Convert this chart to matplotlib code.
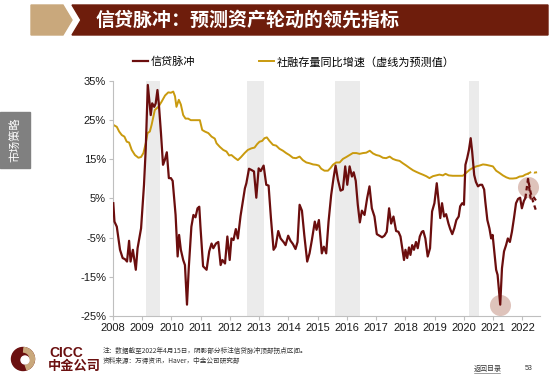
import matplotlib
matplotlib.use("Agg")
import matplotlib.pyplot as plt
from matplotlib.patches import Polygon, Rectangle, Circle, Wedge

plt.rcParams['font.family'] = ['Liberation Sans', 'Noto Sans CJK SC', 'DejaVu Sans']

# credit impulse (%), decimal years
ci_t = [2008.01, 2008.05, 2008.13, 2008.24, 2008.33, 2008.41, 2008.48, 2008.55, 2008.6, 2008.68,
        2008.78, 2008.84, 2008.96, 2009.06, 2009.12, 2009.19, 2009.29, 2009.34, 2009.41, 2009.46,
        2009.52, 2009.57, 2009.64, 2009.71, 2009.77, 2009.84, 2009.91, 2009.98, 2010.04, 2010.14,
        2010.21, 2010.26, 2010.32, 2010.4, 2010.46, 2010.53, 2010.59, 2010.68, 2010.75, 2010.82,
        2010.89, 2010.95, 2010.99, 2011.08, 2011.2, 2011.29, 2011.37, 2011.43, 2011.52, 2011.6,
        2011.68, 2011.74, 2011.83, 2011.91, 2011.99, 2012.05, 2012.12, 2012.2, 2012.27, 2012.36,
        2012.44, 2012.51, 2012.56, 2012.65, 2012.73, 2012.82, 2012.9, 2012.98, 2013.05, 2013.15,
        2013.24, 2013.32, 2013.4, 2013.49, 2013.56, 2013.65, 2013.73, 2013.84, 2013.9, 2013.99,
        2014.07, 2014.15, 2014.24, 2014.31, 2014.38, 2014.46, 2014.54, 2014.64, 2014.72, 2014.8,
        2014.9, 2014.96, 2015.04, 2015.14, 2015.21, 2015.29, 2015.37, 2015.46, 2015.54, 2015.61,
        2015.69, 2015.78, 2015.86, 2015.94, 2016.01, 2016.09, 2016.17, 2016.23, 2016.3, 2016.37,
        2016.44, 2016.51, 2016.6, 2016.69, 2016.77, 2016.85, 2016.94, 2017.02, 2017.11, 2017.2,
        2017.28, 2017.36, 2017.44, 2017.51, 2017.59, 2017.68, 2017.76, 2017.83, 2017.89, 2017.95,
        2018.0, 2018.06, 2018.12, 2018.17, 2018.23, 2018.29, 2018.36, 2018.42, 2018.49, 2018.56,
        2018.61, 2018.68, 2018.76, 2018.84, 2018.91, 2018.99, 2019.07, 2019.12, 2019.19, 2019.25,
        2019.32, 2019.39, 2019.47, 2019.53, 2019.6, 2019.67, 2019.74, 2019.82, 2019.87, 2019.94,
        2020.0, 2020.05, 2020.11, 2020.17, 2020.23, 2020.28, 2020.35, 2020.41, 2020.48, 2020.55,
        2020.62, 2020.69, 2020.73, 2020.8, 2020.87, 2020.93, 2020.98, 2021.05, 2021.1, 2021.15,
        2021.19, 2021.24, 2021.3, 2021.37, 2021.44, 2021.5, 2021.57, 2021.64, 2021.71, 2021.78,
        2021.85, 2021.92, 2021.98, 2022.05, 2022.1]
ci_v = [3.8, -0.9, -2.2, -8.1, -10.2, -10.5, -11.1, -5.8, -11.1, -8.1,
        -13.2, -7.7, -2.6, 8.5, 17.8, 34.0, 26.3, 29.3, 28.4, 29.3,
        32.7, 28.9, 21.7, 13.6, 14.8, 16.8, 10.2, 10.2, 9.5, 0.8,
        -9.8, -4.3, -8.1, -10.7, -12.0, -22.1, -12.8, -2.2, 0.8, 0.2,
        2.5, 2.9, -2.2, -12.3, -13.2, -8.5, -6.5, -7.7, -6.5, -6.1,
        -12.0, -10.7, -11.6, -4.7, -10.7, -5.2, -5.6, -2.8, -5.2, 0.5,
        4.2, 7.6, 8.9, 12.6, 12.3, 11.9, 5.2, 12.7, 12.0, 13.4,
        8.5, 8.3, 0.0, -8.1, -7.3, -3.3, -5.2, -6.2, -6.9, -4.5,
        -5.8, -6.6, -7.9, -6.1, 3.4, 1.9, -4.3, -11.1, -9.0, -5.6,
        -0.9, -3.0, -0.5, -9.0, -7.3, -9.0, -0.9, 5.9, 10.2, 13.4,
        9.8, 7.0, 7.3, 13.2, 8.5, 13.2, 10.6, 11.7, 9.5, 3.4,
        -1.1, 1.9, 0.8, 5.1, 8.1, 2.5, 0.4, -4.1, -4.5, -4.9,
        -4.5, -3.5, 2.5, -1.4, 0.4, -3.3, -3.5, -4.7, -7.7, -10.7,
        -8.1, -10.2, -7.5, -9.4, -6.9, -8.1, -6.1, -7.7, -4.7, -3.5,
        -3.3, -5.2, -9.8, -7.7, 1.7, 3.8, 8.9, 5.1, 0.0, 3.8,
        0.4, 1.0, -1.4, -2.8, -4.1, -2.6, -0.5, 0.4, 3.0, 3.8,
        3.4, 13.6, 15.3, 17.4, 20.4, 17.0, 11.0, 9.2, 8.1, 8.5,
        8.5, 7.3, 4.2, -0.5, -2.6, -5.2, -4.3, -9.4, -13.2, -14.5,
        -17.9, -22.1, -12.8, -8.5, -6.9, -5.2, -6.1, -3.5, 0.0, 3.8,
        4.9, 5.2, 2.5, 4.4, 5.1]

# credit impulse forecast paths (dashed)
fc1_t = [2022.1, 2022.19, 2022.28, 2022.37, 2022.46]
fc1_v = [5.1, 10.0, 6.5, 4.0, 2.0]
fc2_t = [2022.19, 2022.28, 2022.37, 2022.46]
fc2_v = [10.0, 5.0, 5.5, 4.5]

# total social financing stock yoy (%)
tsf_t = [2008.01, 2008.13, 2008.21, 2008.3, 2008.39, 2008.47, 2008.55, 2008.64, 2008.75, 2008.87,
         2008.96, 2009.04, 2009.12, 2009.18, 2009.26, 2009.32, 2009.38, 2009.43, 2009.55, 2009.66,
         2009.78, 2009.89, 2009.98, 2010.06, 2010.12, 2010.17, 2010.25, 2010.32, 2010.4, 2010.48,
         2010.57, 2010.66, 2010.74, 2010.85, 2010.97, 2011.05, 2011.14, 2011.26, 2011.37, 2011.48,
         2011.54, 2011.65, 2011.77, 2011.88, 2011.97, 2012.05, 2012.16, 2012.27, 2012.38, 2012.5,
         2012.61, 2012.73, 2012.84, 2012.93, 2013.01, 2013.1, 2013.18, 2013.26, 2013.35, 2013.47,
         2013.58, 2013.69, 2013.81, 2013.92, 2014.03, 2014.15, 2014.26, 2014.38, 2014.49, 2014.61,
         2014.72, 2014.84, 2014.95, 2015.04, 2015.12, 2015.23, 2015.35, 2015.44, 2015.52, 2015.63,
         2015.75, 2015.86, 2015.98, 2016.09, 2016.2, 2016.32, 2016.43, 2016.55, 2016.66, 2016.78,
         2016.89, 2017.0, 2017.11, 2017.23, 2017.34, 2017.46, 2017.57, 2017.68, 2017.8, 2017.91,
         2018.03, 2018.14, 2018.26, 2018.37, 2018.49, 2018.59, 2018.71, 2018.82, 2018.94, 2019.05,
         2019.16, 2019.28, 2019.37, 2019.48, 2019.62, 2019.79, 2019.96, 2020.07, 2020.19, 2020.3,
         2020.42, 2020.53, 2020.65, 2020.76, 2020.87, 2020.99, 2021.1, 2021.22, 2021.33, 2021.45,
         2021.56, 2021.67, 2021.79, 2021.9, 2022.01, 2022.1, 2022.18]
tsf_v = [23.8, 23.3, 22.1, 21.2, 20.8, 19.5, 19.3, 17.4, 16.1, 15.4,
         15.6, 16.6, 19.1, 21.7, 22.1, 23.8, 25.9, 27.6, 28.4, 29.7,
         31.3, 32.1, 32.0, 32.3, 31.1, 28.4, 30.2, 29.0, 26.3, 25.4,
         25.4, 25.0, 25.0, 25.0, 25.0, 22.5, 22.1, 21.7, 20.8, 20.3,
         19.1, 18.2, 17.4, 17.0, 16.0, 16.1, 15.4, 14.8, 15.6, 16.6,
         17.4, 17.8, 18.0, 18.9, 19.5, 19.7, 20.4, 20.6, 19.7, 18.7,
         18.5, 17.7, 17.2, 16.6, 16.1, 15.4, 15.3, 15.7, 14.8, 14.2,
         14.0, 13.7, 13.6, 13.4, 12.6, 12.1, 12.1, 12.8, 13.6, 14.2,
         14.2, 15.1, 15.6, 16.1, 16.6, 16.6, 16.4, 16.6, 16.7, 17.2,
         16.5, 16.1, 15.9, 15.4, 15.3, 15.7, 15.1, 14.8, 14.6, 14.0,
         13.4, 12.8, 12.2, 11.8, 11.4, 11.1, 10.7, 10.2, 10.7, 10.9,
         11.1, 10.9, 11.3, 10.9, 10.8, 10.8, 10.8, 11.5, 12.3, 12.8,
         13.2, 13.4, 13.7, 13.6, 13.4, 13.2, 12.1, 11.5, 10.9, 10.4,
         10.1, 10.1, 10.2, 10.6, 10.7, 11.1, 11.3]
tsf_fc_t = [2022.18, 2022.3, 2022.4, 2022.5]
tsf_fc_v = [11.3, 11.8, 11.6, 11.7]

# shaded credit impulse peak periods
shade_start = [2009.13, 2012.58, 2015.58, 2020.17]
shade_end = [2009.6, 2013.15, 2016.45, 2020.51]

# highlighted points
hl_t = [2021.24, 2022.2]
hl_v = [-22.1, 8.0]

years = list(range(2008, 2023))
yticks = [35, 25, 15, 5, -5, -15, -25]

RED = '#6B0E0E'
GOLD = '#C99A0E'

W, H = 550, 384
fig = plt.figure(figsize=(W / 100, H / 100), dpi=100)


def fx(px):
    return px / W


def fy(py):
    return 1 - py / H


def inch(px, py):
    # pixel position (top-left origin) -> inches for dpi_scale_trans
    return (px / 100, (H - py) / 100)


# title banner
fig.patches.append(Polygon([(fx(31), fy(5)), (fx(63), fy(5)), (fx(72), fy(20)), (fx(63), fy(35)), (fx(31), fy(35))],
                           closed=True, transform=fig.transFigure, color='#C9A87C', zorder=0))
fig.patches.append(Polygon([(fx(72), fy(5)), (fx(548), fy(5)), (fx(548), fy(35)), (fx(72), fy(35)), (fx(81), fy(20))],
                           closed=True, transform=fig.transFigure, color='#6E1D0C', zorder=0))
fig.text(fx(96), fy(20), '信贷脉冲：预测资产轮动的领先指标', color='white', fontsize=13.7, fontweight='bold',
         va='center', ha='left', family=['Noto Sans CJK SC'])

# side tab
fig.patches.append(Rectangle((0, fy(168)), fx(30), (168 - 112) / H, transform=fig.transFigure,
                             color='#808080', zorder=0))
fig.text(fx(15), fy(140), '市场策略', color='white', fontsize=8, rotation=90, ha='center', va='center',
         family=['Noto Sans CJK SC'])

ax = fig.add_axes([fx(113), fy(316), fx(540) - fx(113), fy(81) - fy(316)])

for s, e in zip(shade_start, shade_end):
    ax.axvspan(s, e, color='#EBEBEB', lw=0, zorder=0)

ax.plot(tsf_t, tsf_v, color=GOLD, lw=1.4, zorder=2, label='社融存量同比增速（虚线为预测值）')
ax.plot(tsf_fc_t, tsf_fc_v, color=GOLD, lw=1.4, ls=(0, (2, 1.5)), zorder=2)
ax.scatter(hl_t, hl_v, s=230, color='#D4AFA5', alpha=0.75, lw=0, zorder=3)
ax.plot(ci_t, ci_v, color=RED, lw=1.6, zorder=4, label='信贷脉冲')
ax.plot(fc1_t, fc1_v, color=RED, lw=1.6, ls=(0, (2, 1.5)), zorder=4)
ax.plot(fc2_t, fc2_v, color=RED, lw=1.6, ls=(0, (2, 1.5)), zorder=4)

ax.set_xlim(2008, 2022.6)
ax.set_ylim(-25, 35)
ax.set_xticks(years)
ax.set_xticklabels([str(y) for y in years])
ax.set_yticks(yticks)
ax.set_yticklabels([f'{v}%' for v in yticks])
ax.tick_params(labelsize=8, colors='#BFBFBF', length=3, width=0.8, pad=2)
for lab in ax.get_xticklabels() + ax.get_yticklabels():
    lab.set_color('#1A1A1A')
for side in ['top', 'right']:
    ax.spines[side].set_visible(False)
for side in ['left', 'bottom']:
    ax.spines[side].set_color('#BFBFBF')
    ax.spines[side].set_linewidth(0.8)

h, l = ax.get_legend_handles_labels()
fig.legend([h[1], h[0]], [l[1], l[0]], loc='center', bbox_to_anchor=(fx(294), fy(62)), ncol=2,
           frameon=False, fontsize=8, handlelength=1.35, handletextpad=0.2, columnspacing=5.8)

# footer logo
ct = inch(23, 359)
fig.patches.append(Circle(ct, 0.115, transform=fig.dpi_scale_trans, color='#6B1010', zorder=1))
fig.patches.append(Wedge(ct, 0.115, -70, 85, width=0.045, transform=fig.dpi_scale_trans,
                         color='#C9A87C', zorder=2))
fig.patches.append(Circle(inch(25, 360), 0.04, transform=fig.dpi_scale_trans, color='white', zorder=3))
fig.text(fx(49), fy(353), 'CICC', color='#6B1010', fontsize=10, fontweight='bold', va='center', ha='left')
fig.text(fx(48), fy(366), '中金公司', color='#6B1010', fontsize=9.5, fontweight='bold', va='center', ha='left',
         family=['Noto Sans CJK SC'])

fig.text(fx(103), fy(351), '注：数据截至2022年4月15日，阴影部分标注信贷脉冲顶部拐点区间。', fontsize=4.8,
         color='#333333', va='center', ha='left', family=['Noto Sans CJK SC'])
fig.text(fx(103), fy(361), '资料来源：万得资讯，Haver，中金公司研究部', fontsize=4.8,
         color='#333333', va='center', ha='left', family=['Noto Sans CJK SC'])
fig.text(fx(474), fy(369), '返回目录', fontsize=5, color='#333333', va='center', ha='left',
         family=['Noto Sans CJK SC'])
fig.lines.append(plt.Line2D([fx(474), fx(500)], [fy(373), fy(373)], transform=fig.transFigure,
                            color='#555555', lw=0.4))
fig.text(fx(525), fy(369), '53', fontsize=5, color='#333333', va='center', ha='left')

fig.savefig('out.png', dpi=100)
